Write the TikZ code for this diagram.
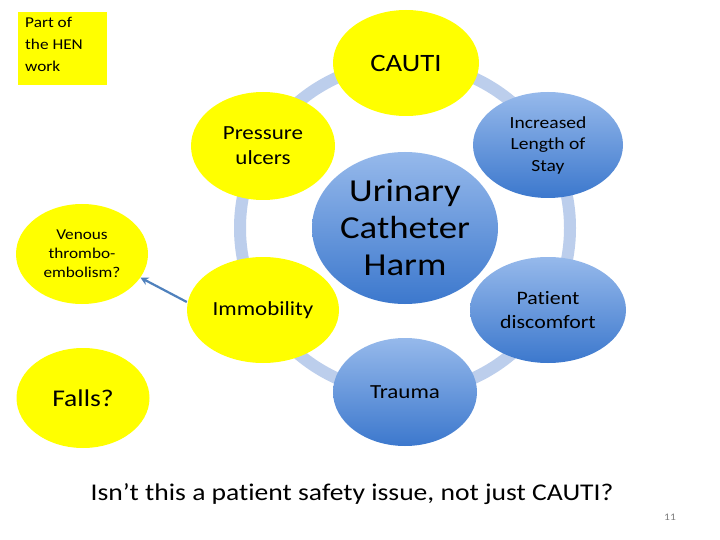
\documentclass[tikz,border=0pt]{standalone}
\usepackage{fontspec}
\setmainfont{Carlito}[FakeStretch=1.15,Ligatures={NoCommon}]
\usetikzlibrary{arrows.meta,shapes.geometric}
\definecolor{ylw}{RGB}{255,255,0}
\definecolor{ringc}{RGB}{188,206,236}
\definecolor{btop}{RGB}{150,185,235}
\definecolor{bbot}{RGB}{60,120,205}
\definecolor{arrc}{RGB}{79,129,189}
\tikzset{
  yel/.style={ellipse, fill=ylw, inner sep=0pt, align=center},
  blu/.style={ellipse, top color=btop, bottom color=bbot, inner sep=0pt, align=center}
}
\begin{document}
\begin{tikzpicture}[x=1pt,y=-1pt]
\useasboundingbox (0,0) rectangle (720,540);
\fill[white] (0,0) rectangle (720,540);
% ring
\node[circle, draw=ringc, line width=12pt, minimum size=330pt, inner sep=0pt] (ring) at (405,228) {};
% nodes
\node[fill=ylw, minimum width=89pt, minimum height=73pt, anchor=north west, inner sep=0pt] (hen) at (18,12) {};
\node[anchor=north west, align=left, inner sep=0pt, font=\fontsize{15}{22}\selectfont] (hent) at (25,17) {Part of\\the HEN\\work};
\node[yel, minimum width=146pt, minimum height=106pt, font=\fontsize{25}{30}\selectfont] (cauti) at (406,63) {CAUTI};
\node[yel, minimum width=144pt, minimum height=108pt, font=\fontsize{20}{25}\selectfont] (pu) at (263,146) {Pressure\\ulcers};
\node[blu, minimum width=150pt, minimum height=106pt, font=\fontsize{17}{21.5}\selectfont] (los) at (548,145) {Increased\\Length of\\Stay};
\node[blu, minimum width=186pt, minimum height=152pt, font=\fontsize{32}{37}\selectfont] (uch) at (405,228) {Urinary\\Catheter\\Harm};
\node[yel, minimum width=152pt, minimum height=106pt, font=\fontsize{20}{25}\selectfont] (imm) at (263,310) {Immobility};
\node[blu, minimum width=156pt, minimum height=106pt, font=\fontsize{19}{24}\selectfont] (pd) at (548,310) {Patient\\discomfort};
\node[blu, minimum width=144pt, minimum height=108pt, font=\fontsize{20}{25}\selectfont] (tr) at (405,392) {Trauma};
\node[yel, minimum width=132pt, minimum height=100pt, font=\fontsize{15}{19}\selectfont] (vte) at (82,254) {Venous\\thrombo-\\embolism?};
\node[yel, minimum width=133pt, minimum height=100pt, font=\fontsize{24}{29}\selectfont] (falls) at (83,398) {Falls?};
\draw[arrc, line width=2.2pt, -{Stealth[length=8pt,width=8pt]}] (imm.west |- 0,302) -- (vte.-22);
\node[font=\fontsize{24}{29}\selectfont] (q) at (352,494) {Isn’t this a patient safety issue, not just CAUTI?};
\node[font=\fontsize{10}{12}\selectfont, text=gray] (num) at (670,517) {11};
\end{tikzpicture}
\end{document}
